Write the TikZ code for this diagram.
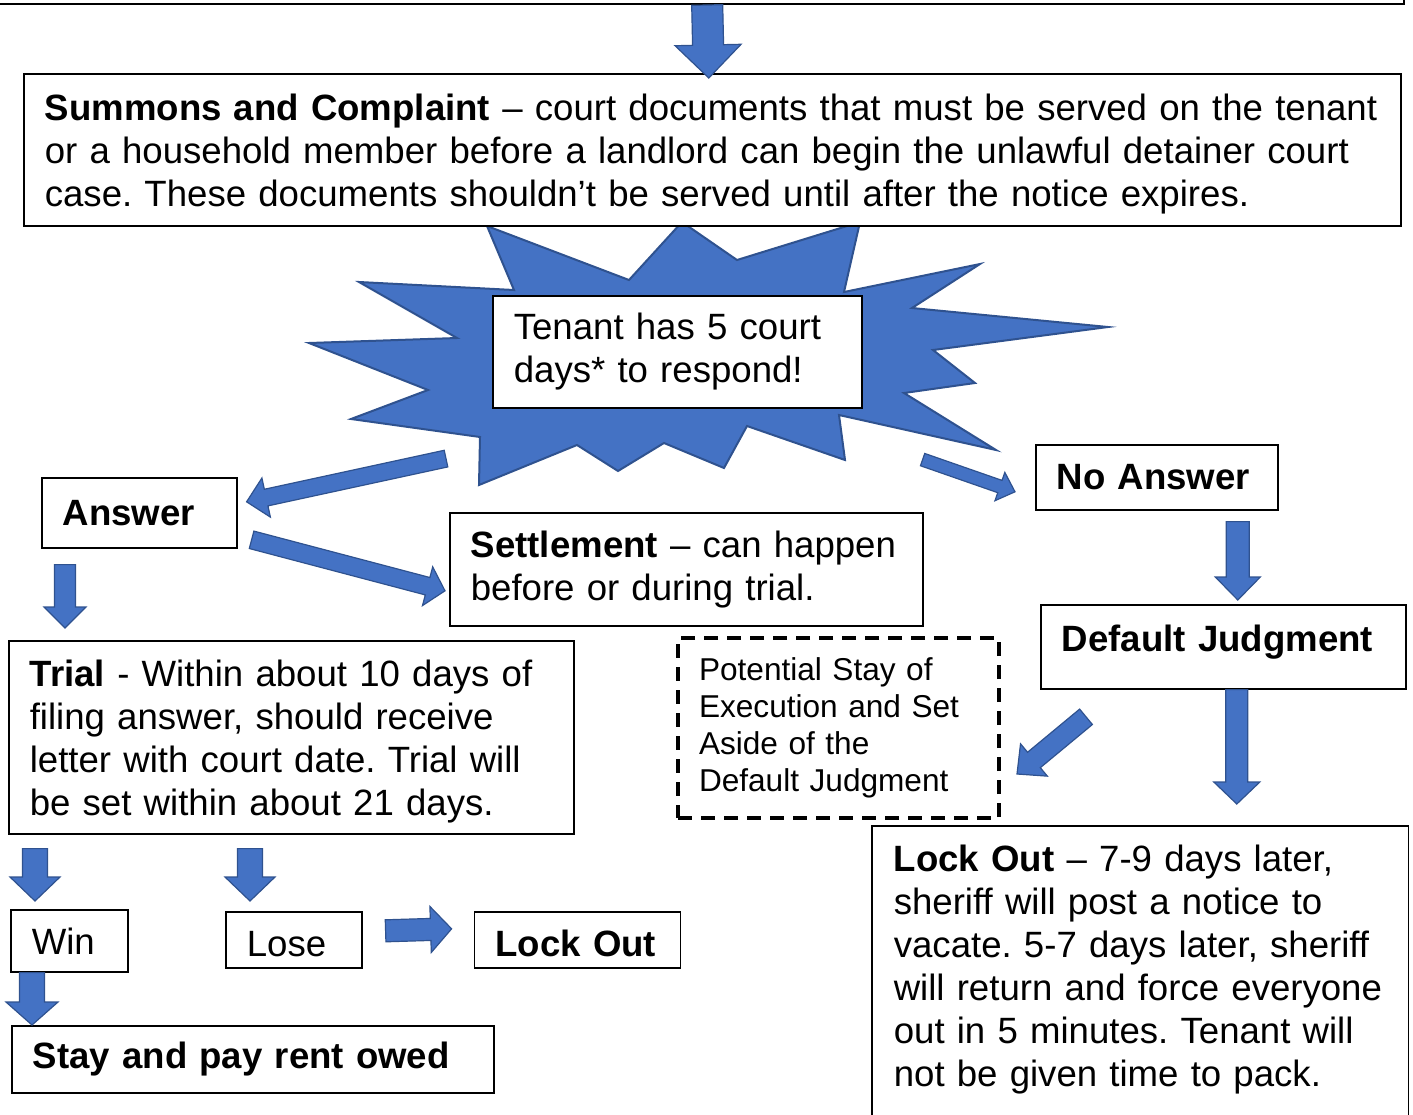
\documentclass[tikz,border=0pt]{standalone}
\usepackage{fontspec}
\setmainfont{Liberation Sans}
\usetikzlibrary{positioning, calc}

\definecolor{arrowblue}{HTML}{4472C4}
\definecolor{arrowedge}{HTML}{2F528F}

\tikzset{
	box/.style={rectangle, draw, line width=1.6pt, fill=white, align=left, anchor=north west, inner xsep=21pt, inner ysep=0pt,
		font=\fontsize{36.6}{43}\selectfont, execute at begin node={\frenchspacing\rightskip=-20pt plus 1fil}},
	blockfill/.style={fill=arrowblue, draw=arrowedge, line width=1.2pt, line join=miter},
	burst/.style={fill=arrowblue, draw=arrowedge, line width=2pt, line join=miter},
}

% #1 tail, #2 tip, #3 half shaft, #4 half head, #5 head length
\newcommand{\blockarrow}[5]{%
	\coordinate (ba-base) at ($(#2)!#5pt!(#1)$);
	\filldraw[blockfill] ($(#1)!#3pt!90:(#2)$) -- ($(ba-base)!#3pt!90:(#2)$) -- ($(ba-base)!#4pt!90:(#2)$) -- (#2)
		-- ($(ba-base)!#4pt!-90:(#2)$) -- ($(ba-base)!#3pt!-90:(#2)$) -- ($(#1)!#3pt!-90:(#2)$) -- cycle;
}

\begin{document}
\begin{tikzpicture}[x=1pt, y=-1pt]
		\useasboundingbox (0,0) rectangle (1413,1114);
		\node[rectangle, draw, line width=1.6pt, minimum width=1415pt, minimum height=60pt, anchor=south east] (notice) at (1405,5) {};

		% the burst
		\filldraw[burst] (487,226) -- (629,280) -- (682,222) -- (737,260) -- (860,222) -- (844,292) -- (980,264) -- (912,308)
			-- (1108,327) -- (933,350) -- (975,383) -- (904,393) -- (996,450) -- (839,415) -- (845,460) -- (747,426)
			-- (724,468) -- (664,443) -- (618,471) -- (577,445) -- (479,485) -- (480,437) -- (351,419) -- (428,390)
			-- (309,343) -- (457,338) -- (359,282) -- (514,290) -- cycle;

		\node[box, minimum height=152pt, text width=1335pt, text height=34.5pt] (summons) at (23,73) {\textbf{Summons and Complaint} – court documents that must be served on the tenant\\or a household member before a landlord can begin the unlawful detainer court\\case. These documents shouldn’t be served until after the notice expires.};
		\node[box, minimum height=112pt, text width=327pt] (tenant) at (492,295) {Tenant has 5 court\\days* to respond!};
		\node[box, minimum height=70pt, text width=153pt] (answer) at (41,477) {\textbf{Answer}};
		\node[box, minimum height=113pt, text width=431pt] (settle) at (449,512) {\textbf{Settlement} – can happen\\before or during trial.};
		\node[box, minimum height=65pt, text width=200pt] (noans) at (1035,444) {\textbf{No Answer}};
		\node[box, minimum height=84pt, text width=323pt, text depth=18pt] (dflt) at (1040,604) {\textbf{Default Judgment}};
		\node[box, line width=4pt, dash pattern=on 14pt off 9pt, minimum height=180pt, text width=279pt, font=\fontsize{31.6}{37}\selectfont] (setaside) at (676,636) {Potential Stay of\\Execution and Set\\Aside of the\\Default Judgment};
		\node[box, minimum height=193pt, text width=523pt, text height=34.5pt] (trial) at (8,640) {\textbf{Trial} - Within about 10 days of\\filing answer, should receive\\letter with court date. Trial will\\be set within about 21 days.};
		\node[box, minimum height=62pt, text width=75pt] (win) at (10,909) {Win};
		\node[box, minimum height=56pt, text width=94pt, text height=34pt] (lose) at (225,911) {Lose};
		\node[box, right=111pt of lose, minimum height=56pt, text width=164pt, text height=34pt] (lockS) {\textbf{Lock Out}};
		\node[box, minimum height=67pt, text width=440pt] (stay) at (11,1025) {\textbf{Stay and pay rent owed}};
		\node[box, draw=none, fill=none, inner ysep=18.5pt, text width=493pt] (lockB) at (872,826) {\textbf{Lock Out} – 7-9 days later,\\sheriff will post a notice to\\vacate. 5-7 days later, sheriff\\will return and force everyone\\out in 5 minutes. Tenant will\\not be given time to pack.};
		\draw[line width=1.6pt] (lockB.north west) rectangle ([yshift=-60pt]lockB.south east);

		% arrow ends
		\coordinate (n1) at ([xshift=10.5pt]notice.south);
		\coordinate (s1) at ([xshift=-3.5pt, yshift=-5pt]summons.north);
		\coordinate (b1) at ([xshift=-46pt, yshift=-50pt]tenant.south west);
		\coordinate (a1) at ([xshift=9pt, yshift=11pt]answer.east);
		\coordinate (a2) at ([xshift=14pt, yshift=-27pt]answer.east);
		\coordinate (st1) at ([xshift=-4pt, yshift=-21.5pt]settle.west);
		\coordinate (b2) at ([xshift=60pt, yshift=-51pt]tenant.south east);
		\coordinate (na1) at ([xshift=-20pt, yshift=-14.5pt]noans.west);
		\coordinate (a3) at ([xshift=24pt, yshift=-16pt]answer.south west);
		\coordinate (t1) at ([xshift=57pt, yshift=12pt]trial.north west);
		\coordinate (na2) at ([xshift=81pt, yshift=-11pt]noans.south);
		\coordinate (d1) at ([xshift=14.5pt, yshift=4pt]dflt.north);
		\coordinate (d2) at ([xshift=13.5pt]dflt.south);
		\coordinate (lb1) at ([xshift=96.5pt, yshift=22pt]lockB.north);
		\coordinate (d3) at ([xshift=46pt, yshift=-70pt]dflt.west);
		\coordinate (sa1) at ([xshift=16pt, yshift=-46pt]setaside.east);
		\coordinate (t2) at ([xshift=27pt, yshift=-14pt]trial.south west);
		\coordinate (w1) at ([xshift=25pt, yshift=8pt]win.north west);
		\coordinate (t3) at ([xshift=242pt, yshift=-14pt]trial.south west);
		\coordinate (l1) at ([xshift=25pt, yshift=10pt]lose.north west);
		\coordinate (w2) at ([xshift=22pt]win.south west);
		\coordinate (sp1) at ([xshift=21pt]stay.north west);
		\coordinate (l2) at ([xshift=23pt, yshift=9pt]lose.east);
		\coordinate (ls1) at ([xshift=-22pt, yshift=11pt]lockS.west);

		% block arrows
		\blockarrow{n1}{s1}{15.5}{33}{33}
		\blockarrow{b1}{a1}{8.5}{20}{20}
		\blockarrow{a2}{st1}{9}{20}{18}
		\blockarrow{b2}{na1}{6.5}{15}{16}
		\blockarrow{a3}{t1}{10.5}{21}{21}
		\blockarrow{na2}{d1}{11.5}{22.5}{23}
		\blockarrow{d2}{lb1}{11}{23}{22}
		\blockarrow{d3}{sa1}{10}{21}{22}
		\blockarrow{t2}{w1}{12.5}{25}{24}
		\blockarrow{t3}{l1}{12.5}{25}{24}
		\blockarrow{w2}{sp1}{12.5}{26}{23}
		\blockarrow{l2}{ls1}{11}{23}{21}
\end{tikzpicture}
\end{document}
